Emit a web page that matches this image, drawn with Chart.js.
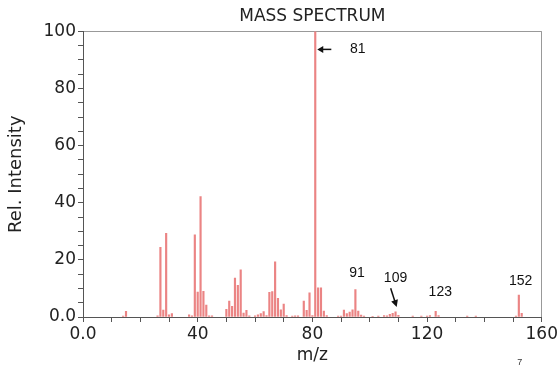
<!DOCTYPE html>
<html><head><meta charset="utf-8">
<script src="https://cdn.jsdelivr.net/npm/chart.js@4"></script>
<style>html,body{margin:0;padding:0;background:#fff}#wrap{width:560px;height:369px;position:relative}</style>
</head><body><div id="wrap"><canvas id="c"></canvas></div>
<script>
// m/z values and relative intensities
const mzValues = [14,15,26,27,28,29,30,31,37,38,39,40,41,42,43,44,45,50,51,52,53,54,55,56,57,58,60,61,62,63,64,65,66,67,68,69,70,71,73,74,75,77,78,79,80,81,82,83,84,85,89,90,91,92,93,94,95,96,97,98,101,103,105,106,107,108,109,110,115,118,120,121,123,124,134,137,151,152,153];
const intensities = [0.3,2.0,0.4,24.4,2.4,29.3,0.8,1.2,0.8,0.4,28.8,8.7,42.2,9.0,4.2,0.4,0.4,2.7,5.6,3.7,13.6,11.1,16.5,1.4,2.3,0.4,0.4,0.8,1.2,1.9,0.5,8.6,8.9,19.3,6.5,2.5,4.5,0.5,0.3,0.4,0.4,5.6,2.3,8.5,0.5,100,10.2,10.2,2.1,0.5,0.3,0.3,2.4,1.2,1.7,2.5,9.6,2.1,0.7,0.3,0.2,0.3,0.5,0.4,0.9,1.3,1.8,0.6,0.3,0.3,0.3,0.5,2.0,0.5,0.3,0.3,0.3,7.7,1.3];
const xTickLabels = {0:'0.0',40:'40',80:'80',120:'120',160:'160'};
const yTickLabels = {0:'0.0',20:'20',40:'40',60:'60',80:'80',100:'100'};
const peakLabels = ['81','91','109','123','152'];

// annotation placement (data units)
const annoCfg = [
  {text:'81', x:95.8, y:93.7},
  {text:'91', x:95.6, y:15.5},
  {text:'109', x:109.0, y:13.6},
  {text:'123', x:124.6, y:8.6},
  {text:'152', x:152.6, y:12.4}
];

const points = mzValues.map((m,i)=>({x:m, y:intensities[i]}));

const annoPlugin = {
  id:'anno',
  afterDatasetsDraw(chart){
    const {ctx, scales:{x,y}, chartArea} = chart;
    ctx.save();
    ctx.fillStyle = '#111';
    ctx.font = '14px "Liberation Sans", Arial, sans-serif';
    ctx.textAlign = 'center';
    ctx.textBaseline = 'middle';
    annoCfg.forEach((a,i)=>{
      ctx.fillText(peakLabels[i], x.getPixelForValue(a.x), y.getPixelForValue(a.y));
    });
    // arrow to 81
    ctx.strokeStyle = '#111'; ctx.lineWidth = 1.5;
    const ay = y.getPixelForValue(93.7);
    const ax1 = x.getPixelForValue(86.6), ax2 = x.getPixelForValue(81.7);
    ctx.beginPath(); ctx.moveTo(ax1, ay); ctx.lineTo(ax2+4, ay); ctx.stroke();
    ctx.beginPath(); ctx.moveTo(ax2, ay); ctx.lineTo(ax2+6, ay-3.5); ctx.lineTo(ax2+6, ay+3.5); ctx.closePath(); ctx.fill();
    // arrow to 109
    const bx1 = x.getPixelForValue(107.3), by1 = y.getPixelForValue(10.1);
    const bx2 = x.getPixelForValue(109.4), by2 = y.getPixelForValue(3.5);
    const ang = Math.atan2(by2-by1, bx2-bx1);
    ctx.beginPath(); ctx.moveTo(bx1,by1); ctx.lineTo(bx2-5*Math.cos(ang), by2-5*Math.sin(ang)); ctx.stroke();
    ctx.beginPath(); ctx.moveTo(bx2,by2);
    ctx.lineTo(bx2-7*Math.cos(ang)+3.5*Math.sin(ang), by2-7*Math.sin(ang)-3.5*Math.cos(ang));
    ctx.lineTo(bx2-7*Math.cos(ang)-3.5*Math.sin(ang), by2-7*Math.sin(ang)+3.5*Math.cos(ang));
    ctx.closePath(); ctx.fill();
    // small page note
    ctx.font = '9px "Liberation Sans", Arial, sans-serif';
    ctx.fillStyle = '#333';
    ctx.fillText('7', x.getPixelForValue(152.3), chartArea.bottom + 46);
    ctx.restore();
  }
};

const font17 = {family:'"DejaVu Sans", sans-serif', size:17};

new Chart(document.getElementById('c'), {
  type:'bar',
  data:{datasets:[{data:points, backgroundColor:'#eb8484', borderWidth:0, barThickness:1.5, grouped:false}]},
  options:{
    responsive:true, maintainAspectRatio:false, animation:false,
    layout:{padding:{left:0,right:17,top:0,bottom:0}},
    plugins:{
      legend:{display:false}, tooltip:{enabled:false},
      title:{display:true, text:'MASS SPECTRUM', fullSize:false, color:'#222',
        font:{family:'"DejaVu Sans", sans-serif', size:17, weight:'normal'}, padding:{top:6,bottom:5}}
    },
    scales:{
      x:{type:'linear', min:0, max:160, offset:false,
        ticks:{stepSize:10, autoSkip:false, maxRotation:0, color:'#222', font:font17, padding:2,
          callback:v=> xTickLabels[v] !== undefined ? xTickLabels[v] : ''},
        grid:{offset:false, drawOnChartArea:true, color:c=> (c.tick && c.tick.value===160) ? '#999' : 'rgba(0,0,0,0)',
          tickColor:'#555', tickLength:5, lineWidth:1},
        border:{display:true, color:'#555', width:1},
        title:{display:true, text:'m/z', color:'#222', font:font17, padding:{top:0,bottom:3}},
        afterFit:s=>{s.height = 52;}
      },
      y:{type:'linear', min:0, max:100, offset:false,
        ticks:{stepSize:5, autoSkip:false, color:'#222', font:font17, padding:2,
          callback:v=> yTickLabels[v] !== undefined ? yTickLabels[v] : ''},
        grid:{offset:false, drawOnChartArea:true, color:c=> (c.tick && c.tick.value===100) ? '#999' : 'rgba(0,0,0,0)',
          tickColor:'#555', tickLength:5, lineWidth:1},
        border:{display:true, color:'#555', width:1},
        title:{display:true, text:'Rel. Intensity', color:'#222', font:{family:'"DejaVu Sans", sans-serif', size:18}, padding:{top:6,bottom:0}},
        afterFit:s=>{s.width = 83;}
      }
    }
  },
  plugins:[annoPlugin]
});
</script></body></html>
